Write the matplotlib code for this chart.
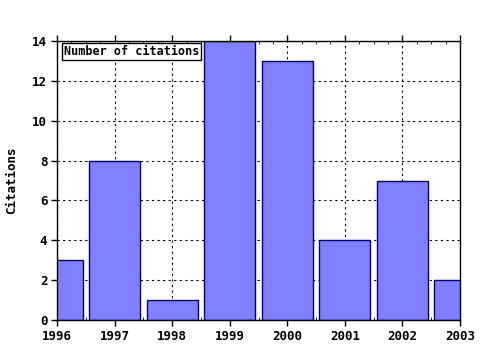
import matplotlib
matplotlib.use("Agg")
import matplotlib.pyplot as plt
from matplotlib.ticker import MultipleLocator

years = [1996, 1997, 1998, 1999, 2000, 2001, 2002, 2003]
citations = [3, 8, 1, 14, 13, 4, 7, 2]

plt.rcParams['font.family'] = 'DejaVu Sans Mono'
plt.rcParams['font.weight'] = 'bold'
plt.rcParams['font.size'] = 8

fig = plt.figure(figsize=(4.8, 3.5), dpi=100)
ax = fig.add_axes([57/480, 1 - 320/350, 403/480, 279/350])

ax.bar(years, citations, width=0.89, color='#8080ff', edgecolor='#000080', linewidth=1, zorder=2)

ax.set_xlim(1996, 2003)
ax.set_ylim(0, 14)
ax.set_xticks(years)
ax.set_xticklabels([str(y) for y in years])
ax.yaxis.set_major_locator(MultipleLocator(2))
ax.xaxis.set_minor_locator(MultipleLocator(0.25))
ax.grid(True, which='major', color='black', linestyle=(0, (2, 3)), linewidth=0.8)
ax.set_axisbelow(True)

ax.tick_params(axis='both', which='major', direction='out', length=4, width=1, labelsize=9, pad=3)
ax.tick_params(axis='x', which='minor', direction='in', length=2, top=True)
ax.tick_params(axis='x', which='major', top=True)
for lab in ax.get_xticklabels() + ax.get_yticklabels():
    lab.set_fontweight('bold')
for s in ax.spines.values():
    s.set_linewidth(1)

ax.set_ylabel('Citations', fontsize=9, fontweight='bold', labelpad=10)

ax.text(0.017, 0.985, 'Number of citations', transform=ax.transAxes, ha='left', va='top',
        fontsize=8.5, fontweight='bold', zorder=5,
        bbox=dict(boxstyle='square,pad=0.15', facecolor='white', edgecolor='black', linewidth=1))

fig.savefig('out.png', dpi=100)
